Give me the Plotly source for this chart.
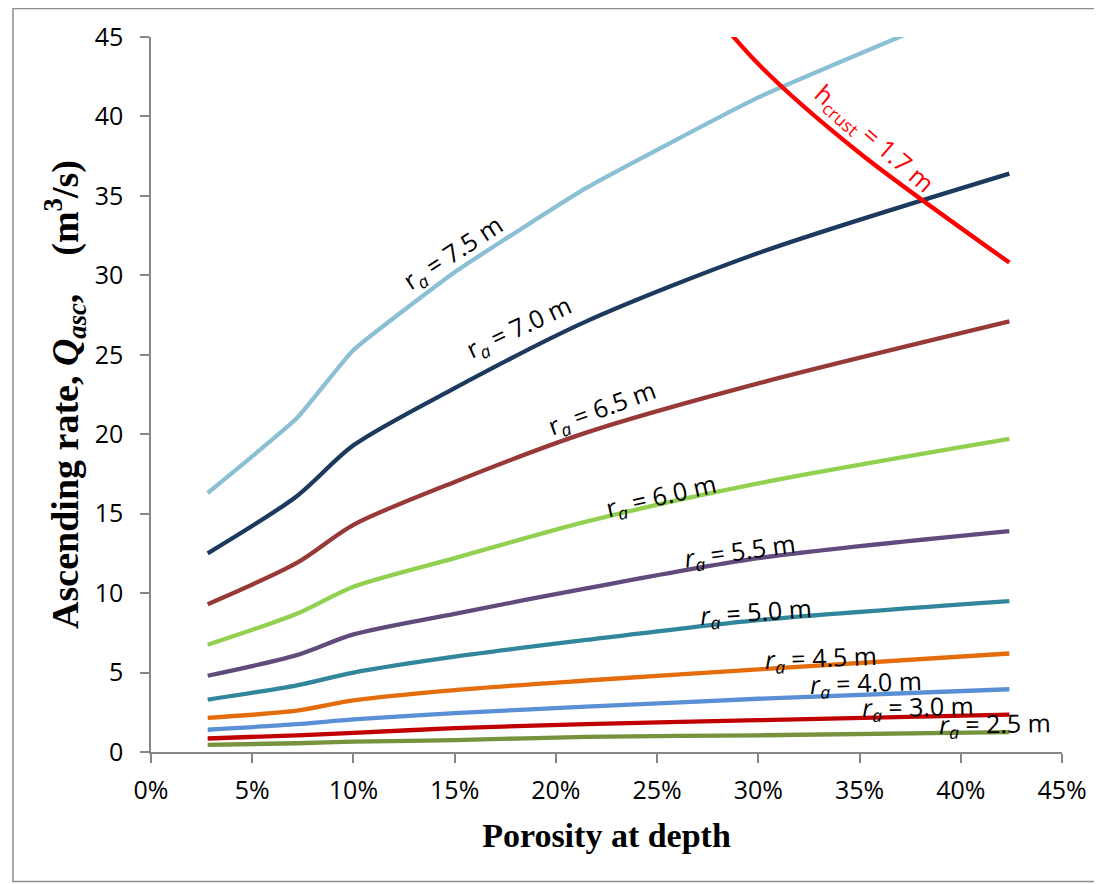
import plotly.graph_objects as go

porosity = [0.028, 0.072, 0.100, 0.150, 0.215, 0.300, 0.424]

q_75 = [16.3, 21.0, 25.3, 30.2, 35.5, 41.2, 47.9]
q_70 = [12.5, 16.1, 19.3, 22.9, 27.1, 31.4, 36.4]
q_65 = [9.3, 11.9, 14.3, 17.0, 20.1, 23.2, 27.1]
q_60 = [6.75, 8.7, 10.4, 12.2, 14.5, 16.9, 19.7]
q_55 = [4.8, 6.1, 7.4, 8.7, 10.3, 12.2, 13.9]
q_50 = [3.3, 4.2, 5.0, 6.0, 7.05, 8.3, 9.5]
q_45 = [2.15, 2.6, 3.25, 3.9, 4.5, 5.2, 6.2]
q_40 = [1.4, 1.75, 2.05, 2.45, 2.85, 3.35, 3.95]
q_30 = [0.85, 1.05, 1.2, 1.5, 1.75, 2.0, 2.35]
q_25 = [0.45, 0.55, 0.65, 0.75, 0.95, 1.05, 1.25]

crust_porosity = [0.255, 0.300, 0.350, 0.424]
crust_q = [50.0, 43.3, 37.7, 30.8]

series = [
    ("7.5", q_75, "#8BBFD5", 0.35),
    ("7.0", q_70, "#1B3A5E", 0.8),
    ("6.5", q_65, "#973A37", 0.8),
    ("6.0", q_60, "#92D050", 0.8),
    ("5.5", q_55, "#614B7D", 0.8),
    ("5.0", q_50, "#31869B", 0.8),
    ("4.5", q_45, "#E46C0A", 0.8),
    ("4.0", q_40, "#5A8FD6", 0.8),
    ("3.0", q_30, "#C00000", 0.8),
    ("2.5", q_25, "#76923C", 0.8),
]

# label positions (data coords) and angles
labels = {
    "7.5": (0.149, 31.4, -33, False),
    "7.0": (0.182, 26.7, -25, False),
    "6.5": (0.223, 21.6, -20, False),
    "6.0": (0.252, 16.1, -13, False),
    "5.5": (0.291, 12.6, -8, True),
    "5.0": (0.299, 8.8, -4, True),
    "4.5": (0.331, 5.9, -2, True),
    "4.0": (0.353, 4.3, -2, True),
    "3.0": (0.379, 2.8, -1, True),
    "2.5": (0.417, 1.7, -1, True),
}

fig = go.Figure()
for name, vals, col, sm in series:
    fig.add_trace(go.Scatter(
        x=porosity, y=vals, mode="lines", name=name,
        line=dict(color=col, width=4.3, shape="spline", smoothing=sm),
        showlegend=False, hoverinfo="skip"))

fig.add_trace(go.Scatter(
    x=crust_porosity, y=crust_q, mode="lines",
    line=dict(color="#FF0000", width=4.3, shape="spline", smoothing=0.8),
    showlegend=False, hoverinfo="skip"))

annos = []
for name, vals, col, sm in series:
    x, y, ang, ital = labels[name]
    r = "<i>r</i>" if ital else "r"
    annos.append(dict(
        x=x, y=y, xref="x", yref="y", showarrow=False,
        text=f"{r}<sub><i>a</i></sub> = {name} m", textangle=ang,
        font=dict(family="Open Sans, sans-serif", size=25, color="black")))

annos.append(dict(
    x=0.357, y=38.6, xref="x", yref="y", showarrow=False,
    text="h<sub>crust</sub> = 1.7 m", textangle=41,
    font=dict(family="Open Sans, sans-serif", size=25, color="#FF0000")))

fig.update_layout(
    width=1094, height=876,
    margin=dict(l=143, r=40, t=29, b=131.5),
    paper_bgcolor="white", plot_bgcolor="white",
    annotations=annos,
    shapes=[dict(type="rect", xref="paper", yref="paper",
                 x0=-0.1515, x1=1.0417, y0=-0.181, y1=1.0398,
                 line=dict(color="#8C8C8C", width=1.5), layer="below")],
    xaxis=dict(
        range=[0, 0.45], tickvals=[i * 0.05 for i in range(10)], tickformat=".0%",
        showgrid=False, zeroline=False, showline=True, linecolor="#868686", linewidth=1.5,
        ticks="outside", ticklen=9, tickcolor="#868686", tickwidth=1.5,
        tickfont=dict(family="Open Sans, sans-serif", size=25, color="black"),
        ticklabelstandoff=6,
        title=dict(text="<b>Porosity at depth</b>", standoff=18,
                   font=dict(family="Liberation Serif, serif", size=34, color="black"))),
    yaxis=dict(
        range=[0, 45], tickvals=list(range(0, 50, 5)),
        showgrid=False, zeroline=False, showline=True, linecolor="#868686", linewidth=1.5,
        ticks="outside", ticklen=9, tickcolor="#868686", tickwidth=1.5,
        tickfont=dict(family="Open Sans, sans-serif", size=25, color="black"),
        ticklabelstandoff=12,
        title=dict(text="<b>Ascending rate, <i>Q<sub>asc</sub></i>,&nbsp;&nbsp;&nbsp; (m<sup>3</sup>/s)</b>",
                   standoff=4,
                   font=dict(family="Liberation Serif, serif", size=38, color="black"))),
)

fig.write_html("out.html")
